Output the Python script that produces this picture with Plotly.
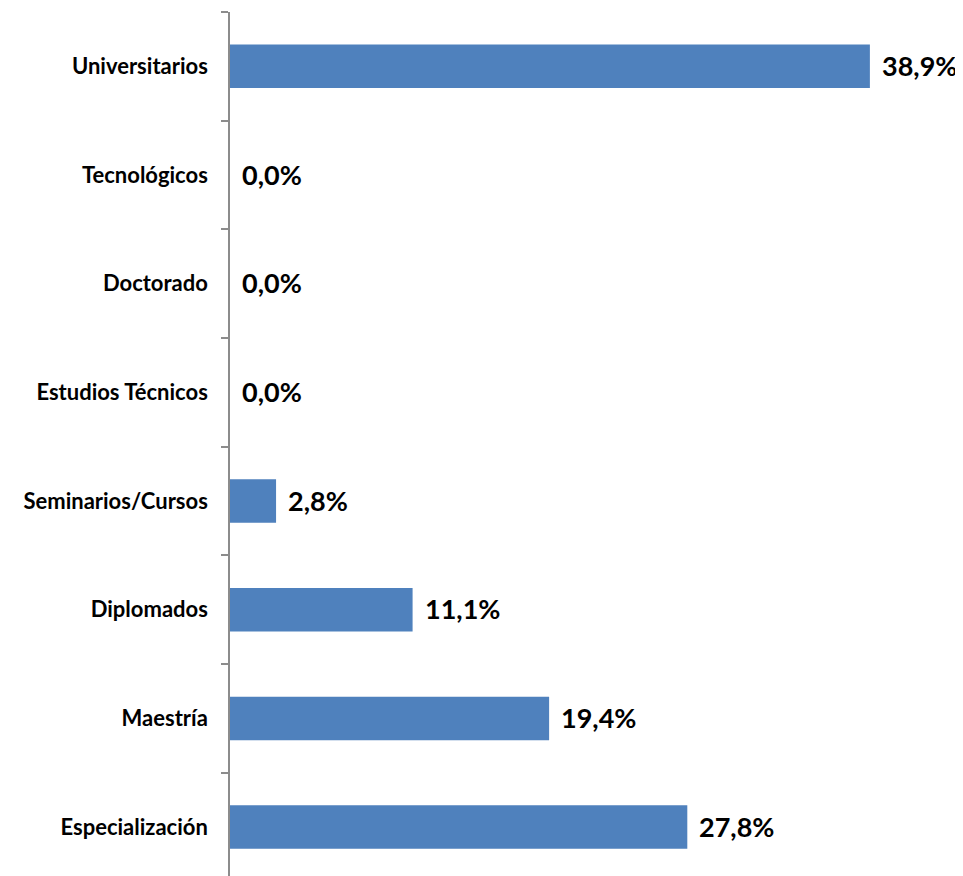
import plotly.graph_objects as go

categories = ["Especialización", "Maestría", "Diplomados", "Seminarios/Cursos",
              "Estudios Técnicos", "Doctorado", "Tecnológicos", "Universitarios"]
values = [27.8, 19.4, 11.1, 2.8, 0.0, 0.0, 0.0, 38.9]
labels = ["27,8%", "19,4%", "11,1%", "2,8%", "0,0%", "0,0%", "0,0%", "38,9%"]

FONT = "Lato, Open Sans, sans-serif"

fig = go.Figure(go.Bar(
    y=categories, x=values, orientation="h",
    marker=dict(color="#4F81BD", line=dict(width=0)),
    hoverinfo="skip",
))

for c, v, t in zip(categories, values, labels):
    fig.add_annotation(x=v, y=c, text=f"<b>{t}</b>", showarrow=False,
                       xanchor="left", yanchor="middle", xshift=10, yshift=1,
                       font=dict(family=FONT, size=27, color="black"))

fig.update_layout(
    width=955, height=868,
    margin=dict(l=222, r=0, t=4, b=0),
    paper_bgcolor="white", plot_bgcolor="white",
    bargap=0.6, showlegend=False,
    font=dict(family=FONT, color="black"),
)
fig.update_xaxes(range=[0, 44.56], visible=False, fixedrange=True)
fig.update_yaxes(
    type="category", range=[-0.45, 7.5],
    showline=True, linecolor="#8c8c8c", linewidth=1.5,
    ticks="outside", ticklen=7, tickcolor="#8c8c8c", tickwidth=1.5,
    tickson="boundaries", showgrid=False, zeroline=False,
    ticklabelstandoff=16,
    tickfont=dict(family=FONT, size=22, color="black", weight="bold"),
    fixedrange=True,
)

fig.write_html("out.html", config={"displayModeBar": False})
